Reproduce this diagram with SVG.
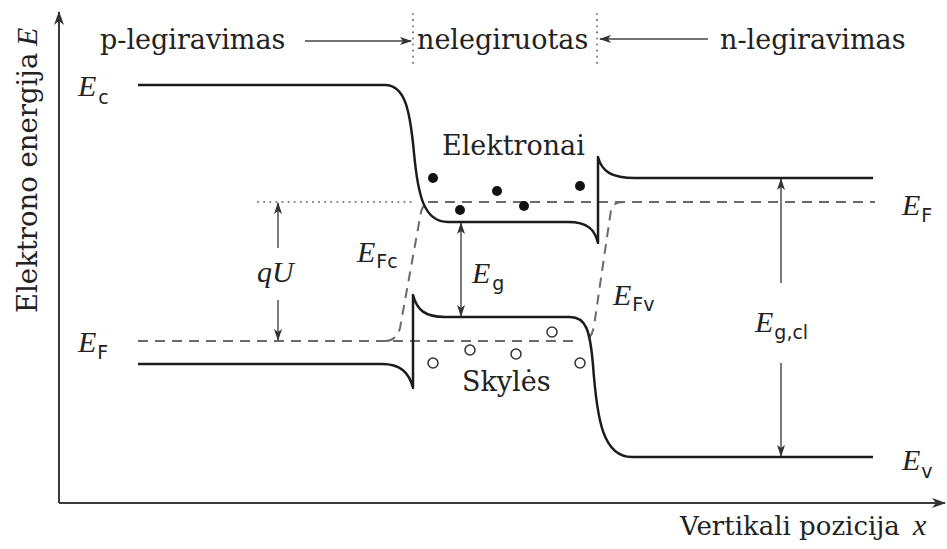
<svg xmlns="http://www.w3.org/2000/svg" width="947" height="549" viewBox="0 0 947 549">
<defs>
<style>
.band{fill:none;stroke:#1c1c1c;stroke-width:2.5;stroke-linejoin:round}
.axis{fill:none;stroke:#3a3a3a;stroke-width:2}
.dash{fill:none;stroke:#6a6a6a;stroke-width:2;stroke-dasharray:10 7}
.dot{fill:none;stroke:#7a7a7a;stroke-width:2;stroke-dasharray:0.1 6;stroke-linecap:round}
.arr{fill:none;stroke:#444;stroke-width:1.4}
.el{fill:#111}
.hole{fill:none;stroke:#333;stroke-width:1.5}
</style>
<marker id="ah" viewBox="0 0 12 8" refX="11" refY="4" markerWidth="12" markerHeight="8" markerUnits="userSpaceOnUse" orient="auto-start-reverse">
<path d="M0,0 L12,4 L0,8 L3,4 z" fill="#333"/>
</marker>
<marker id="axh" viewBox="0 0 14 10" refX="13" refY="5" markerWidth="14" markerHeight="10" markerUnits="userSpaceOnUse" orient="auto">
<path d="M0,0 L14,5 L0,10 L4,5 z" fill="#333"/>
</marker>
</defs>
<rect x="0" y="0" width="947" height="549" fill="#ffffff"/>

<g id="axes">
<path class="axis" d="M59,503 V12" marker-end="url(#axh)"/>
<path class="axis" d="M59,503 H945" marker-end="url(#axh)"/>
</g>

<g id="region-dividers">
<path class="dot" d="M413,14 V66"/>
<path class="dot" d="M597,14 V64"/>
</g>

<g id="fermi-levels">
<path class="dot" d="M258,202 H414"/>
<path class="dash" d="M428,202 H875"/>
<path class="dash" d="M138,341 H575"/>
<path class="dash" d="M386,341 Q397,340 400,328 L421,212 Q423,204 430,202"/>
<path class="dash" d="M624,202 Q613,202 611,210 L594,326 Q592,337 586,341"/>
</g>

<g id="conduction-band">
<path class="band" d="M138,85 H385 C405,85 410,110 414,153 C418,196 424,222 448,222 H568 C588,222 595,230 598,243 V157 C602,172 612,178 635,178 H873"/>
</g>

<g id="valence-band">
<path class="band" d="M138,364 H382 C400,364 409,372 413,388 V295 C417,310 425,317 445,317 H570 C586,317 590,330 593,365 C597,420 603,457 632,457 H873"/>
</g>

<g id="connectors">
<path class="arr" d="M305,41 H411" marker-end="url(#ah)"/>
<path class="arr" d="M708,39 H600" marker-end="url(#ah)"/>
<path class="arr" d="M278,248 V203" marker-end="url(#ah)"/>
<path class="arr" d="M278,300 V340" marker-end="url(#ah)"/>
<path class="arr" d="M461,223 V316" marker-start="url(#ah)" marker-end="url(#ah)"/>
<path class="arr" d="M781,283 V179" marker-end="url(#ah)"/>
<path class="arr" d="M781,363 V456" marker-end="url(#ah)"/>
</g>

<g id="electrons">
<circle class="el" cx="433" cy="178" r="5"/>
<circle class="el" cx="460" cy="210" r="5"/>
<circle class="el" cx="497" cy="191" r="5"/>
<circle class="el" cx="524" cy="206" r="5"/>
<circle class="el" cx="580" cy="186" r="5"/>
</g>

<g id="holes">
<circle class="hole" cx="433" cy="363" r="5"/>
<circle class="hole" cx="470" cy="350" r="5"/>
<circle class="hole" cx="516" cy="354" r="5"/>
<circle class="hole" cx="552" cy="332" r="5"/>
<circle class="hole" cx="580" cy="363" r="5"/>
</g>

<g id="labels" fill="#222">
<text x="100" y="49" font-family="DejaVu Serif" font-size="27">p-legiravimas</text>
<text x="417" y="49" font-family="DejaVu Serif" font-size="27">nelegiruotas</text>
<text x="720" y="49" font-family="DejaVu Serif" font-size="27">n-legiravimas</text>
<text x="442" y="155" font-family="DejaVu Serif" font-size="27">Elektronai</text>
<text x="462" y="391" font-family="DejaVu Serif" font-size="27">Skylės</text>
<text x="680" y="535" font-family="DejaVu Serif" font-size="26">Vertikali pozicija</text>
<text transform="translate(37,313) rotate(-90)" font-family="DejaVu Serif" font-size="27.5">Elektrono energija</text>
</g>

<g id="math-labels" fill="#222">
<text x="913" y="535" font-family="Liberation Serif" font-style="italic" font-size="30">x</text>
<text transform="translate(37,46) rotate(-90)" font-family="Liberation Serif" font-style="italic" font-size="30">E</text>
<text x="257" y="282" font-family="Liberation Serif" font-style="italic" font-size="30">qU</text>
<text x="78" y="96" font-family="Liberation Serif" font-style="italic" font-size="30">E<tspan font-family="DejaVu Sans" font-style="normal" font-size="19" dx="2" dy="8">c</tspan></text>
<text x="78" y="352" font-family="Liberation Serif" font-style="italic" font-size="30">E<tspan font-family="DejaVu Sans" font-style="normal" font-size="19" dx="1" dy="7">F</tspan></text>
<text x="902" y="215" font-family="Liberation Serif" font-style="italic" font-size="30">E<tspan font-family="DejaVu Sans" font-style="normal" font-size="19" dx="1" dy="7">F</tspan></text>
<text x="902" y="470" font-family="Liberation Serif" font-style="italic" font-size="30">E<tspan font-family="DejaVu Sans" font-style="normal" font-size="19" dx="1" dy="8">v</tspan></text>
<text x="357" y="262" font-family="Liberation Serif" font-style="italic" font-size="30">E<tspan font-family="DejaVu Sans" font-style="normal" font-size="19" dx="1" dy="6">Fc</tspan></text>
<text x="472" y="283" font-family="Liberation Serif" font-style="italic" font-size="30">E<tspan font-family="DejaVu Sans" font-style="normal" font-size="19" dx="2" dy="7">g</tspan></text>
<text x="613" y="305" font-family="Liberation Serif" font-style="italic" font-size="30">E<tspan font-family="DejaVu Sans" font-style="normal" font-size="19" dx="1" dy="6">Fv</tspan></text>
<text x="755" y="332" font-family="Liberation Serif" font-style="italic" font-size="30">E<tspan font-family="DejaVu Sans" font-style="normal" font-size="19" dx="1" dy="7">g,cl</tspan></text>
</g>
</svg>
